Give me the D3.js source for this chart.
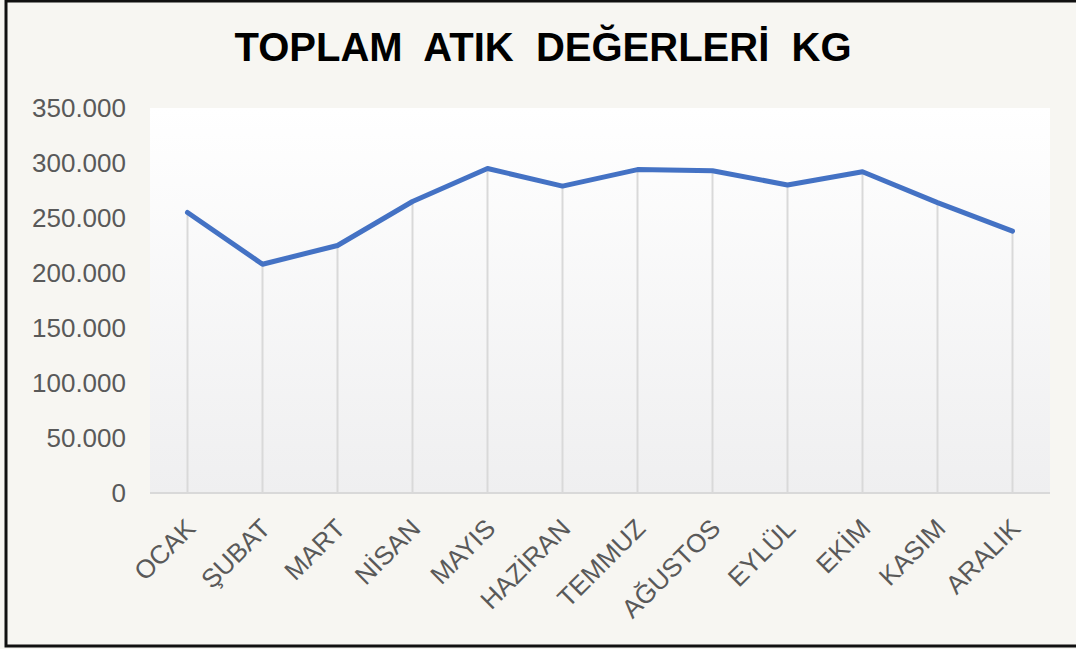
<!DOCTYPE html>
<meta charset="utf-8">
<script src="https://d3js.org/d3.v7.min.js"></script>
<style>
  body { margin: 0; background: #f7f6f2; }
</style>
<div id="my_dataviz"></div>
<script>
// data
var months = ["OCAK", "ŞUBAT", "MART", "NİSAN", "MAYIS", "HAZİRAN", "TEMMUZ", "AĞUSTOS", "EYLÜL", "EKİM", "KASIM", "ARALIK"];
var values = [255000, 208000, 225000, 265000, 295000, 279000, 294000, 293000, 280000, 292000, 264000, 238000];
var yTicks = [0, 50000, 100000, 150000, 200000, 250000, 300000, 350000];
var title = "TOPLAM  ATIK  DEĞERLERİ  KG";

var W = 1076, H = 649;
var margin = {top: 108, right: 26, bottom: 156, left: 150},
    width = W - margin.left - margin.right,
    height = H - margin.top - margin.bottom;

var svg = d3.select("#my_dataviz")
  .append("svg")
    .attr("width", W)
    .attr("height", H);

// outer frame (right edge runs off the picture)
svg.append("rect")
  .attr("x", 6).attr("y", 1)
  .attr("width", W + 10)
  .attr("height", 645)
  .attr("fill", "#f7f6f2")
  .attr("stroke", "#111")
  .attr("stroke-width", 3);

// title
svg.append("text")
  .attr("x", 543)
  .attr("y", 61)
  .attr("text-anchor", "middle")
  .style("font-family", "Liberation Sans, Arial, sans-serif")
  .style("font-weight", "bold")
  .style("font-size", "40px")
  .style("white-space", "pre")
  .attr("fill", "#000")
  .text(title);

var defs = svg.append("defs");
var grad = defs.append("linearGradient")
  .attr("id", "plotGrad")
  .attr("x1", 0).attr("y1", 0).attr("x2", 0).attr("y2", 1);
grad.append("stop").attr("offset", "0%").attr("stop-color", "#ffffff");
grad.append("stop").attr("offset", "100%").attr("stop-color", "#efeff0");

var g = svg.append("g")
  .attr("transform", "translate(" + margin.left + "," + margin.top + ")");

g.append("rect")
  .attr("width", width)
  .attr("height", height)
  .attr("fill", "url(#plotGrad)");

var x = d3.scalePoint()
  .domain(months)
  .range([0, width])
  .padding(0.5);

var y = d3.scaleLinear()
  .domain([0, 350000])
  .range([height, 0]);

var locale = d3.formatLocale({decimal: ",", thousands: ".", grouping: [3], currency: ["", ""]});
var fmt = locale.format(",");

// y axis labels
var yAxis = g.append("g")
  .call(d3.axisLeft(y).tickValues(yTicks).tickFormat(fmt).tickSize(0).tickPadding(24));
yAxis.select(".domain").remove();
yAxis.selectAll("text")
  .style("font-family", "Liberation Sans, Arial, sans-serif")
  .style("font-size", "26px")
  .attr("fill", "#595959");

// drop lines
g.selectAll(".drop")
  .data(values)
  .enter().append("line")
  .attr("class", "drop")
  .attr("x1", function(d, i) { return x(months[i]); })
  .attr("x2", function(d, i) { return x(months[i]); })
  .attr("y1", function(d) { return y(d); })
  .attr("y2", height)
  .attr("stroke", "#d9d9d9")
  .attr("stroke-width", 2);

// x axis
var xAxis = g.append("g")
  .attr("transform", "translate(0," + height + ")")
  .call(d3.axisBottom(x).tickSize(0).tickPadding(0));
xAxis.select(".domain")
  .attr("stroke", "#d9d9d9")
  .attr("stroke-width", 2)
  .attr("d", "M0,0H" + width);
xAxis.selectAll("text")
  .style("font-family", "Liberation Sans, Arial, sans-serif")
  .style("font-size", "26px")
  .attr("fill", "#595959")
  .attr("text-anchor", "end")
  .attr("dy", "0")
  .attr("transform", "translate(9,37) rotate(-45)");

// line
g.append("path")
  .datum(values)
  .attr("fill", "none")
  .attr("stroke", "#4472c4")
  .attr("stroke-width", 5)
  .attr("stroke-linejoin", "round")
  .attr("stroke-linecap", "round")
  .attr("d", d3.line()
    .x(function(d, i) { return x(months[i]); })
    .y(function(d) { return y(d); }));
</script>
